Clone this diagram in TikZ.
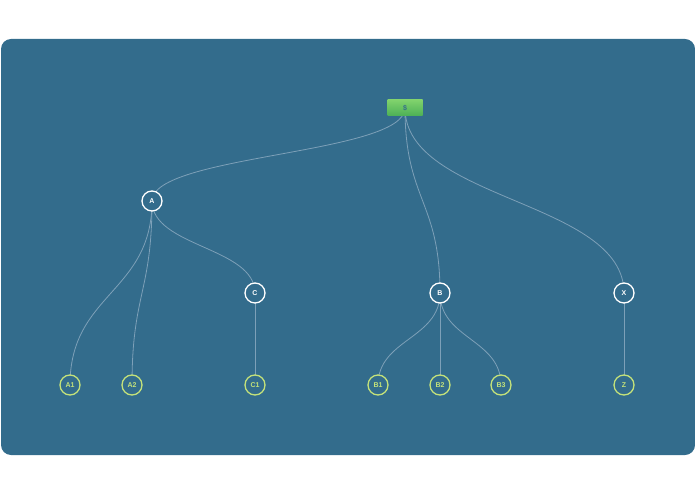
\documentclass[tikz,border=0pt]{standalone}
\usepackage{fontspec}
\setmainfont{Liberation Sans}
\usepackage{tikz}
\usepackage{xcolor}
\usetikzlibrary{calc, positioning}
\definecolor{bgblue}{RGB}{51,108,140}
\definecolor{linkgrey}{RGB}{125,160,184}
\definecolor{leafgreen}{RGB}{196,226,122}
\definecolor{rootlight}{RGB}{128,210,108}
\definecolor{rootdark}{RGB}{76,176,86}
\newcommand{\branch}[2]{\draw[link] (#1) .. controls ($(#1)!0.5!(#1 |- #2)$) and ($(#2)!0.5!(#2 |- #1)$) .. (#2);}
\tikzset{
    inner/.style={circle, draw=white, line width=1.3pt, fill=bgblue, minimum size=20pt, inner sep=0pt, text=white, font=\fontsize{7}{8}\selectfont\bfseries},
    leaf/.style={circle, draw=leafgreen, line width=1.3pt, fill=bgblue, minimum size=20pt, inner sep=0pt, text=leafgreen, font=\fontsize{7}{8}\selectfont\bfseries},
    rootbox/.style={rectangle, top color=rootlight, bottom color=rootdark, minimum width=35pt, minimum height=16pt, inner sep=0pt, text=bgblue, font=\fontsize{7}{8}\selectfont\bfseries},
    link/.style={draw=linkgrey, line width=0.8pt}
}

\begin{document}
\begin{tikzpicture}[x=1pt, y=-1pt]
    \useasboundingbox (0,0) rectangle (695,494);
    \fill[bgblue, rounded corners=10pt] (1,39) rectangle (695,455);

    \coordinate (s) at (405,108);
    \coordinate (a) at (152,201);
    \coordinate (c) at (255,293);
    \coordinate (b) at (440,293);
    \coordinate (x) at (624,293);
    \coordinate (a1) at (70,385);
    \coordinate (a2) at (132,385);
    \coordinate (c1) at (255,385);
    \coordinate (b1) at (378,385);
    \coordinate (b2) at (440,385);
    \coordinate (b3) at (501,385);
    \coordinate (z) at (624,385);

    \branch{s}{a}
    \branch{s}{b}
    \branch{s}{x}
    \branch{a}{a1}
    \branch{a}{a2}
    \branch{a}{c}
    \branch{c}{c1}
    \branch{b}{b1}
    \branch{b}{b2}
    \branch{b}{b3}
    \branch{x}{z}

    \node[rootbox] (S) at (s) {\$};
    \node[inner] (A) at (a) {A};
    \node[inner] (C) at (c) {C};
    \node[inner] (B) at (b) {B};
    \node[inner] (X) at (x) {X};
    \node[leaf] (A1) at (a1) {A1};
    \node[leaf] (A2) at (a2) {A2};
    \node[leaf] (C1) at (c1) {C1};
    \node[leaf] (B1) at (b1) {B1};
    \node[leaf] (B2) at (b2) {B2};
    \node[leaf] (B3) at (b3) {B3};
    \node[leaf] (Z) at (z) {Z};
\end{tikzpicture}
\end{document}
